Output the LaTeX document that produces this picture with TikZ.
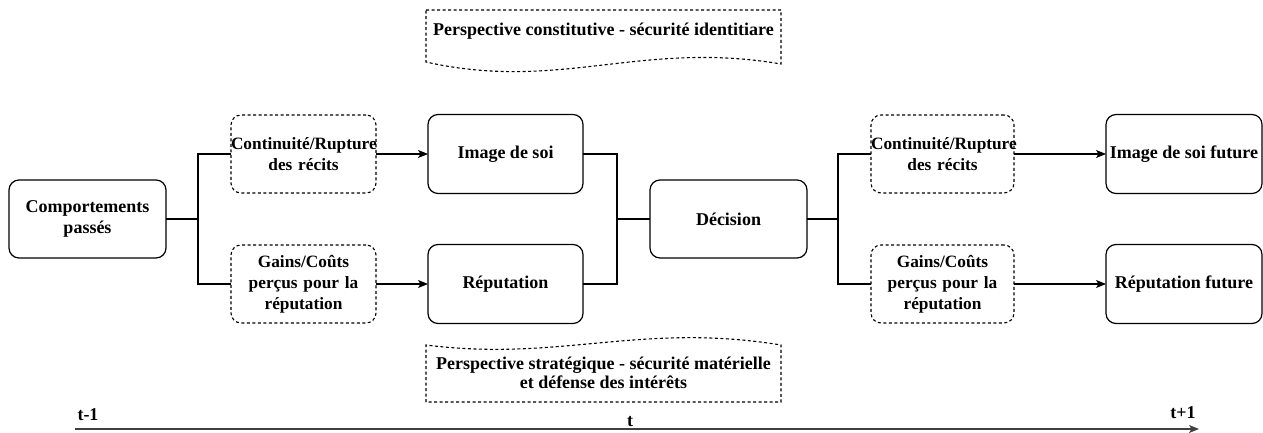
\documentclass[tikz,border=0pt]{standalone}
\usepackage{fontspec}
\setmainfont{Liberation Serif}
\usetikzlibrary{positioning,calc,arrows.meta}

\begin{document}
\begin{tikzpicture}[x=1pt,y=-1pt,
				every node/.style={font=\fontsize{18}{21}\selectfont\bfseries,align=center,inner sep=0pt,outer sep=0pt},
				box/.style={draw,line width=1.2pt,rounded corners=10pt,minimum width=155pt,minimum height=79pt},
				dbox/.style={draw,line width=1.1pt,dash pattern=on 3pt off 2.5pt,rounded corners=10pt,text width=145pt,minimum height=78pt,
					font=\fontsize{17.3}{21}\selectfont\bfseries},
				bus/.style={line width=2.5pt},
				arr/.style={line width=1.2pt,-{Stealth[length=10pt,width=8pt,inset=2.5pt]}}]
				\useasboundingbox (0,0) rectangle (1263,433);
				\node[box,minimum width=157pt,minimum height=78pt] (CP) at (87.5,219) {Comportements\\passés};
				\node[dbox] (C1) [right=65pt of CP,yshift=65pt]  {Continuité/Rupture\\des récits};
				\node[dbox] (G1) [right=65pt of CP,yshift=-65pt] {Gains/Coûts\\perçus pour la\\réputation};
				\node[box]  (IS) [right=52pt of C1]              {Image de soi};
				\node[box]  (R)  [right=52pt of G1]              {Réputation};
				\node[box,minimum width=157pt,minimum height=78pt] (D) [right=67pt of IS,yshift=-65pt] {Décision};
				\node[dbox,text width=143pt] (C2) [right=64pt of D,yshift=65pt]  {Continuité/Rupture\\des récits};
				\node[dbox,text width=143pt] (G2) [right=64pt of D,yshift=-65pt] {Gains/Coûts\\perçus pour la\\réputation};
				\node[box,minimum width=156pt] (ISF) [right=92pt of C2] {Image de soi future};
				\node[box,minimum width=156pt] (RF)  [right=92pt of G2] {Réputation future};
				
				% perspectives
				\draw[line width=1.1pt,dash pattern=on 3pt off 2.5pt] (426,10) -- (781,10) -- (781,64)
					.. controls (640,40) and (560,92) .. (426,62) -- cycle;
				\draw[line width=1.1pt,dash pattern=on 3pt off 2.5pt] (426,402) -- (426,345)
					.. controls (560,362) and (640,322) .. (781,345) -- (781,402) -- cycle;
				\node (PC) at (603.5,31)  {Perspective constitutive - sécurité identitiare};
				\node[font=\fontsize{18}{19.5}\selectfont\bfseries] (PS) at (603.5,373) {Perspective stratégique - sécurité matérielle\\et défense des intérêts};
				
				\draw[bus] (CP.east) -| ([xshift=-33pt]C1.west) -- (C1.west);
				\draw[bus] (CP.east) -| ([xshift=-33pt]G1.west) -- (G1.west);
				\draw[bus] (IS.east) -| ([xshift=-33pt]D.west) -- (D.west);
				\draw[bus] (R.east)  -| ([xshift=-33pt]D.west);
				\draw[bus] (D.east)  -| ([xshift=-33pt]C2.west) -- (C2.west);
				\draw[bus] (D.east)  -| ([xshift=-33pt]G2.west) -- (G2.west);
				\draw[arr] (C1) -- (IS);
				\draw[arr] (G1) -- (R);
				\draw[arr] (C2) -- (ISF);
				\draw[arr] (G2) -- (RF);
				
				% time axis
				\coordinate (T0) at (75,429);
				\coordinate (T1) at (1199,429);
				\draw[line width=1.3pt,black!75,-{Stealth[length=10pt,width=8pt,inset=2.5pt]}] (T0) -- (T1);
				\node (TA) at (88,415)   {t-1};
				\node (TB) at (1183,413) {t+1};
				\node (TC) at (630,422)  {t};
			\end{tikzpicture}
\end{document}
